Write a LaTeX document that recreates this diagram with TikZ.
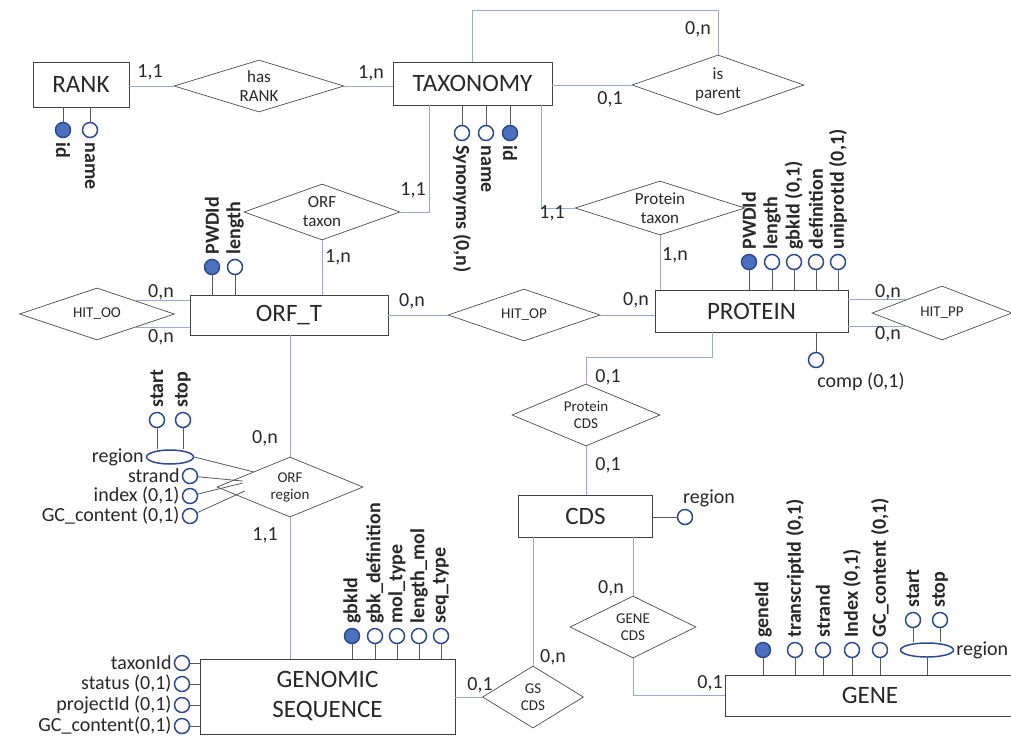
\documentclass[tikz,border=0pt]{standalone}
\usepackage{fontspec}
\setmainfont{Carlito}
\definecolor{erline}{RGB}{150,172,210}
\definecolor{erblue}{RGB}{45,75,140}
\definecolor{erkey}{RGB}{75,112,192}
\definecolor{ertext}{RGB}{40,40,40}
\newcommand\entfont{\fontsize{25}{30}\selectfont}
\newcommand\relbig{\fontsize{17}{19}\selectfont}
\newcommand\relsmall{\fontsize{15}{17}\selectfont}
\newcommand\cardfont{\fontsize{20}{22}\selectfont}
\newcommand\attrfont{\fontsize{20}{22}\selectfont}
\usetikzlibrary{shapes.geometric,positioning,calc}

\begin{document}
\begin{tikzpicture}[x=1pt, y=-1pt,
    ent/.style={rectangle, draw=black!75, line width=0.8pt, fill=white, align=center,
                font=\entfont, text=ertext, inner sep=0pt},
    rel/.style={diamond, draw=black!70, line width=0.7pt, align=center, inner sep=0pt, text=ertext},
    attr/.style={circle, draw=erblue, line width=1.5pt, fill=white, minimum size=15pt, inner sep=0pt},
    keyattr/.style={attr, fill=erkey},
    multi/.style={ellipse, draw=erblue, line width=1.5pt, fill=white, minimum height=14pt, inner sep=0pt},
    conn/.style={erline, line width=0.8pt},
    stem/.style={black!65, line width=0.8pt},
    card/.style={font=\cardfont, text=ertext, inner sep=0pt},
    vlabup/.style={rotate=90, anchor=west, font=\attrfont\bfseries, text=ertext, inner sep=1pt},
    vlabdn/.style={rotate=-90, anchor=west, font=\attrfont\bfseries, text=ertext, inner sep=1pt},
    hlab/.style={anchor=east, font=\attrfont, text=ertext, inner sep=2pt}
  ]
    \useasboundingbox (0,0) rectangle (1011,740);
    \clip (0,0) rectangle (1011,740);

    % Entities
    \node[ent, minimum width=96pt,  minimum height=45pt] (rank) at (81,84.5)    {RANK};
    \node[ent, minimum width=159pt, minimum height=43pt] (tax)  at (472.5,83.5) {TAXONOMY};
    \node[ent, minimum width=198pt, minimum height=40pt] (orf)  at (289,315)    {ORF\_T};
    \node[ent, minimum width=193pt, minimum height=42pt] (prot) at (751.5,311)  {PROTEIN};
    \node[ent, minimum width=134pt, minimum height=42pt] (cds)  at (585.5,516)  {CDS};
    \node[ent, minimum width=255pt, minimum height=75pt] (gs)   at (327.5,696.5) {GENOMIC\\SEQUENCE};
    \node[ent, minimum width=290pt, minimum height=41pt] (gene) at (870,695.5)  {GENE};

    % Relationships
    \node[rel, font=\relbig, aspect=3.27, minimum width=170pt, minimum height=52pt] (hasrank)  at (259,86)  {has\\RANK};
    \node[rel, font=\relbig, aspect=2.87, minimum width=172pt, minimum height=60pt] (ispar)    at (718,85)  {is\\parent};
    \node[rel, font=\relbig, aspect=2.79, minimum width=156pt, minimum height=56pt] (orftax)   at (322,212) {ORF\\taxon};
    \node[rel, font=\relbig, aspect=3.15, minimum width=170pt, minimum height=54pt] (prottax)  at (660,208) {Protein\\taxon};
    \node[rel, font=\relsmall, aspect=2.98, minimum width=155pt, minimum height=52pt] (hitoo)  at (97,314)  {HIT\_OO};
    \node[rel, font=\relsmall, aspect=2.92, minimum width=152pt, minimum height=52pt] (hitop)  at (524,315) {HIT\_OP};
    \node[rel, font=\relsmall, aspect=2.59, minimum width=140pt, minimum height=54pt] (hitpp)  at (942,313) {HIT\_PP};
    \node[rel, font=\relsmall, aspect=2.39, minimum width=148pt, minimum height=62pt] (protcds) at (586,415) {Protein\\CDS};
    \node[rel, font=\relsmall, aspect=2.43, minimum width=146pt, minimum height=60pt] (orfreg)  at (290,487) {ORF\\region};
    \node[rel, font=\relsmall, aspect=2.03, minimum width=126pt, minimum height=62pt] (genecds) at (633,627) {GENE\\CDS};
    \node[rel, font=\relsmall, aspect=1.63, minimum width=101pt, minimum height=62pt] (gscds)   at (533,697) {GS\\CDS};

    % Connections
    \draw[conn] (rank.east |- hasrank.west) -- (hasrank.west);
    \draw[conn] (hasrank.east) -- (hasrank.east -| tax.west);
    \coordinate (looptop) at (0,10);
    \draw[conn] (tax.north) -- (tax.north |- looptop) -| (ispar.north);
    \draw[conn] (tax.east |- ispar.west) -- (ispar.west);
    \draw[conn] ([xshift=37pt]tax.south west) |- (orftax.east);
    \draw[conn] ([xshift=-11pt]tax.south east) |- (prottax.west);
    \draw[conn] (orftax.south) -- (orftax.south |- orf.north);
    \draw[conn] (prottax.south) -- (prottax.south |- prot.north);
    \draw[conn] (hitoo.north east) -- (hitoo.north east -| orf.west);
    \draw[conn] (hitoo.south east) -- (hitoo.south east -| orf.west);
    \draw[conn] (orf.east) -- (hitop.west);
    \draw[conn] (hitop.east) -- (hitop.east -| prot.west);
    \draw[conn] (hitpp.north west) -- (hitpp.north west -| prot.east);
    \draw[conn] (hitpp.south west) -- (hitpp.south west -| prot.east);
    \draw[conn] ([xshift=-39pt]prot.south) -- ++(0,25) -| (protcds.north);
    \draw[conn] (protcds.south) -- (protcds.south |- cds.north);
    \draw[conn] (orfreg.north) -- (orfreg.north |- orf.south);
    \draw[conn] (orfreg.south) -- (orfreg.south |- gs.north);
    \draw[conn] (gscds.north) -- (gscds.north |- cds.south);
    \draw[conn] (gscds.west) -- (gscds.west -| gs.east);
    \draw[conn] (genecds.north) -- (genecds.north |- cds.south);
    \draw[conn] (genecds.south) |- (gene.west);

    % Cardinalities
    \node[card] (c1)  at (150,72)  {1,1};
    \node[card] (c2)  at (371,73)  {1,n};
    \node[card] (c3)  at (698,29)  {0,n};
    \node[card] (c4)  at (610,99)  {0,1};
    \node[card] (c5)  at (413,190) {1,1};
    \node[card] (c6)  at (552,213) {1,1};
    \node[card] (c7)  at (338,257) {1,n};
    \node[card] (c8)  at (675,255) {1,n};
    \node[card] (c9)  at (161,292) {0,n};
    \node[card] (c10) at (161,337) {0,n};
    \node[card] (c11) at (412,301) {0,n};
    \node[card] (c12) at (636,300) {0,n};
    \node[card] (c13) at (888,292) {0,n};
    \node[card] (c14) at (888,334) {0,n};
    \node[card] (c15) at (608,377) {0,1};
    \node[card] (c16) at (608,465) {0,1};
    \node[card] (c17) at (265,438) {0,n};
    \node[card] (c18) at (265,535) {1,1};
    \node[card] (c19) at (611,588) {0,n};
    \node[card] (c20) at (553,657) {0,n};
    \node[card] (c21) at (480,685) {0,1};
    \node[card] (c22) at (710,683) {0,1};

    % RANK attributes
    \node[keyattr] (rankid)   at (63,130) {};
    \node[attr]    (rankname) at (90,130) {};
    \draw[stem] (rankid) -- (rankid |- rank.south);
    \draw[stem] (rankname) -- (rankname |- rank.south);
    \node[vlabdn] (lrankid)   at ([yshift=-3pt]rankid.south)   {id};
    \node[vlabdn] (lrankname) at ([yshift=-3pt]rankname.south) {name};

    % TAXONOMY attributes
    \node[attr]    (taxsyn)  at (462,133) {};
    \node[attr]    (taxname) at (486,133) {};
    \node[keyattr] (taxid)   at (510,133) {};
    \draw[stem] (taxsyn) -- (taxsyn |- tax.south);
    \draw[stem] (taxname) -- (taxname |- tax.south);
    \draw[stem] (taxid) -- (taxid |- tax.south);
    \node[vlabdn] (ltaxsyn)  at ([yshift=-3pt]taxsyn.south)  {Synonyms (0,n)};
    \node[vlabdn] (ltaxname) at ([yshift=-3pt]taxname.south) {name};
    \node[vlabdn] (ltaxid)   at ([yshift=-3pt]taxid.south)   {id};

    % ORF_T attributes
    \node[keyattr] (orfpwd) at (212,267) {};
    \node[attr]    (orflen) at (235,267) {};
    \draw[stem] (orfpwd) -- (orfpwd |- orf.north);
    \draw[stem] (orflen) -- (orflen |- orf.north);
    \node[vlabup] (lorfpwd) at ([yshift=3pt]orfpwd.north) {PWDId};
    \node[vlabup] (lorflen) at ([yshift=3pt]orflen.north) {length};

    % PROTEIN attributes
    \node[keyattr] (protpwd) at (749,262) {};
    \node[attr]    (protlen) at (772,262) {};
    \node[attr]    (protgbk) at (794,262) {};
    \node[attr]    (protdef) at (816,262) {};
    \node[attr]    (protuni) at (838,262) {};
    \node[attr]    (protcomp) at (816,360) {};
    \draw[stem] (protpwd) -- (protpwd |- prot.north);
    \draw[stem] (protlen) -- (protlen |- prot.north);
    \draw[stem] (protgbk) -- (protgbk |- prot.north);
    \draw[stem] (protdef) -- (protdef |- prot.north);
    \draw[stem] (protuni) -- (protuni |- prot.north);
    \draw[stem] (protcomp) -- (protcomp |- prot.south);
    \node[vlabup] (lprotpwd) at ([yshift=3pt]protpwd.north) {PWDId};
    \node[vlabup] (lprotlen) at ([yshift=3pt]protlen.north) {length};
    \node[vlabup] (lprotgbk) at ([yshift=3pt]protgbk.north) {gbkId (0,1)};
    \node[vlabup] (lprotdef) at ([yshift=3pt]protdef.north) {definition};
    \node[vlabup] (lprotuni) at ([yshift=3pt]protuni.north) {uniprotId (0,1)};
    \node[font=\attrfont, text=ertext, inner sep=0pt] (lprotcomp) at (861,382) {comp (0,1)};

    % CDS attribute
    \node[attr] (cdsreg) at (685,517) {};
    \draw[stem] (cdsreg) -- (cdsreg -| cds.east);
    \node[font=\attrfont, text=ertext, anchor=west, inner sep=0pt] (lcdsreg) at (683,498) {region};

    % ORF region attributes
    \node[multi, minimum width=47pt] (orfregion) at (170,457) {};
    \node[attr] (orfstart)  at (157,420) {};
    \node[attr] (orfstop)   at (183,420) {};
    \node[attr] (orfstrand) at (190,476) {};
    \node[attr] (orfindex)  at (190,496) {};
    \node[attr] (orfgc)     at (190,516) {};
    \draw[stem] (orfstart) -- (orfstart |- orfregion.north);
    \draw[stem] (orfstop) -- (orfstop |- orfregion.north);
    \draw[stem] (orfregion.east) -- (orfreg.north west);
    \draw[stem] (orfstrand) -- ([xshift=26pt,yshift=6pt]orfreg.west);
    \draw[stem] (orfindex) -- ([xshift=26pt,yshift=4pt]orfreg.west);
    \draw[stem] (orfgc) -- ([xshift=28pt,yshift=-4pt]orfreg.west);
    \node[vlabup] (lorfstart) at ([yshift=3pt]orfstart.north) {start};
    \node[vlabup] (lorfstop)  at ([yshift=3pt]orfstop.north)  {stop};
    \node[hlab] (lorfregion) at (orfregion.west)  {region};
    \node[hlab] (lorfstrand) at (orfstrand.west)  {strand};
    \node[hlab] (lorfindex)  at (orfindex.west)   {index (0,1)};
    \node[hlab] (lorfgc)     at (orfgc.west)      {GC\_content (0,1)};

    % GENOMIC SEQUENCE attributes
    \node[keyattr] (gsgbk) at (352,636) {};
    \node[attr]    (gsdef) at (375,636) {};
    \node[attr]    (gsmol) at (397,636) {};
    \node[attr]    (gslen) at (419,636) {};
    \node[attr]    (gsseq) at (441,636) {};
    \draw[stem] (gsgbk) -- (gsgbk |- gs.north);
    \draw[stem] (gsdef) -- (gsdef |- gs.north);
    \draw[stem] (gsmol) -- (gsmol |- gs.north);
    \draw[stem] (gslen) -- (gslen |- gs.north);
    \draw[stem] (gsseq) -- (gsseq |- gs.north);
    \node[vlabup] (lgsgbk) at ([yshift=3pt]gsgbk.north) {gbkId};
    \node[vlabup] (lgsdef) at ([yshift=3pt]gsdef.north) {gbk\_definition};
    \node[vlabup] (lgsmol) at ([yshift=3pt]gsmol.north) {mol\_type};
    \node[vlabup] (lgslen) at ([yshift=3pt]gslen.north) {length\_mol};
    \node[vlabup] (lgsseq) at ([yshift=3pt]gsseq.north) {seq\_type};
    \node[attr] (gstaxon)  at (182,663) {};
    \node[attr] (gsstatus) at (182,684) {};
    \node[attr] (gsproj)   at (182,705) {};
    \node[attr] (gsgc)     at (182,726) {};
    \draw[stem] (gstaxon) -- (gstaxon -| gs.west);
    \draw[stem] (gsstatus) -- (gsstatus -| gs.west);
    \draw[stem] (gsproj) -- (gsproj -| gs.west);
    \draw[stem] (gsgc) -- (gsgc -| gs.west);
    \node[hlab] (lgstaxon)  at (gstaxon.west)  {taxonId};
    \node[hlab] (lgsstatus) at (gsstatus.west) {status (0,1)};
    \node[hlab] (lgsproj)   at (gsproj.west)   {projectId (0,1)};
    \node[hlab] (lgsgc)     at (gsgc.west)     {GC\_content(0,1)};

    % GENE attributes
    \node[keyattr] (geneid)     at (763,650) {};
    \node[attr]    (genetrans)  at (795,650) {};
    \node[attr]    (genestrand) at (823,650) {};
    \node[attr]    (geneindex)  at (852,650) {};
    \node[attr]    (genegc)     at (880,650) {};
    \node[multi, minimum width=53pt] (generegion) at (927,650) {};
    \node[attr]    (genestart)  at (913,620) {};
    \node[attr]    (genestop)   at (940,620) {};
    \draw[stem] (geneid) -- (geneid |- gene.north);
    \draw[stem] (genetrans) -- (genetrans |- gene.north);
    \draw[stem] (genestrand) -- (genestrand |- gene.north);
    \draw[stem] (geneindex) -- (geneindex |- gene.north);
    \draw[stem] (genegc) -- (genegc |- gene.north);
    \draw[stem] (generegion) -- (generegion |- gene.north);
    \draw[stem] (genestart) -- (genestart |- generegion.north);
    \draw[stem] (genestop) -- (genestop |- generegion.north);
    \node[vlabup] (lgeneid)     at ([yshift=3pt]geneid.north)     {geneId};
    \node[vlabup] (lgenetrans)  at ([yshift=3pt]genetrans.north)  {transcriptId (0,1)};
    \node[vlabup] (lgenestrand) at ([yshift=3pt]genestrand.north) {strand};
    \node[vlabup] (lgeneindex)  at ([yshift=3pt]geneindex.north)  {Index (0,1)};
    \node[vlabup] (lgenegc)     at ([yshift=3pt]genegc.north)     {GC\_content (0,1)};
    \node[vlabup] (lgenestart)  at ([yshift=3pt]genestart.north)  {start};
    \node[vlabup] (lgenestop)   at ([yshift=3pt]genestop.north)   {stop};
    \node[font=\attrfont, text=ertext, anchor=west, inner sep=2pt] (lgeneregion) at (generegion.east) {region};
  \end{tikzpicture}
\end{document}
